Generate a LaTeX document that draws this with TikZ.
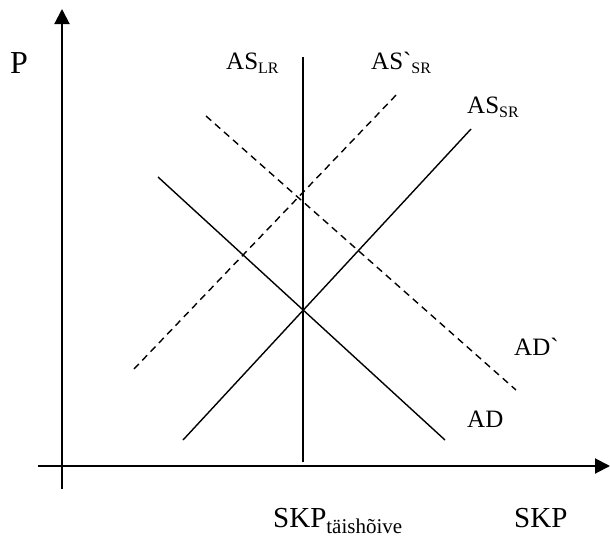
\documentclass[tikz,border=0pt]{standalone}
\usepackage{fontspec}
\setmainfont{Liberation Serif}
\usetikzlibrary{arrows.meta}
\newcommand{\lbsub}[2][-4pt]{\raisebox{#1}{\fontsize{16}{16}\selectfont #2}}
\begin{document}
\begin{tikzpicture}[x=1pt,y=-1pt,
  axisline/.style={line width=2pt,-{Triangle[length=15pt,width=15pt]}},
  curve/.style={line width=1.4pt},
  dcurve/.style={line width=1.4pt,dash pattern=on 7pt off 5pt},
  lbl/.style={anchor=base west,inner sep=0pt,font=\fontsize{25}{30}\selectfont},
  lblbig/.style={anchor=base west,inner sep=0pt,font=\fontsize{29}{34}\selectfont}]
\useasboundingbox (0,0) rectangle (610,539);
% axes
\coordinate (yb) at (62,489);
\coordinate (yt) at (62,9);
\coordinate (xl) at (38,466);
\coordinate (xr) at (610,466);
\draw[axisline] (yb) -- (yt);
\draw[axisline] (xl) -- (xr);
% curves
\coordinate (lrT) at (303,57);
\coordinate (lrB) at (303,462);
\coordinate (srB) at (183,440);
\coordinate (srT) at (471,129);
\coordinate (adT) at (158,177);
\coordinate (adB) at (445,440);
\coordinate (srpB) at (134,369);
\coordinate (srpT) at (399,92);
\coordinate (adpT) at (206,116);
\coordinate (adpB) at (516,390);
\draw[curve] (lrT) -- (lrB);
\draw[curve] (srB) -- (srT);
\draw[curve] (adT) -- (adB);
\draw[dcurve] (srpB) -- (srpT);
\draw[dcurve] (adpT) -- (adpB);
% labels
\node[anchor=base west,inner sep=0pt,font=\fontsize{32}{36}\selectfont] (P) at (10,73) {P};
\node[lbl] (ASLR) at (226,69) {AS\lbsub{LR}};
\node[lbl] (ASpSR) at (371,69) {AS\textasciigrave\lbsub{SR}};
\node[lbl] (ASSR) at (467,113) {AS\lbsub{SR}};
\node[lbl] (ADp) at (514,355) {AD\textasciigrave};
\node[lbl] (AD) at (467,427) {AD};
\node[lblbig] (SKPt) at (273,527) {SKP\raisebox{-6pt}{\fontsize{21}{21}\selectfont täishõive}};
\node[lblbig] (SKP) at (514,527) {SKP};
\end{tikzpicture}
\end{document}
